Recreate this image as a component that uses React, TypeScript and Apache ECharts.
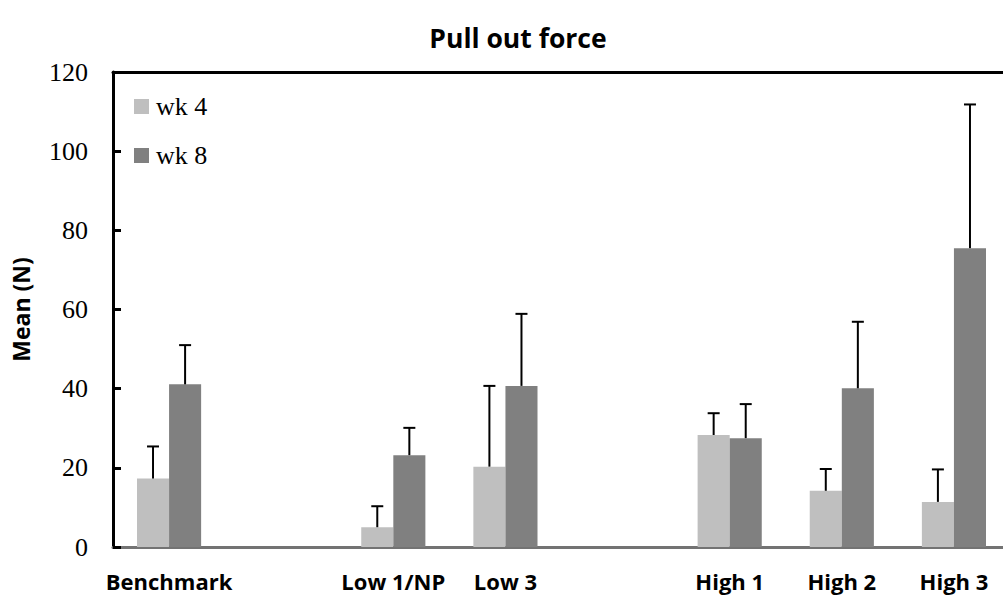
import React, { useEffect, useRef } from "react";
import * as echarts from "echarts";

const categories = ["Benchmark", "", "Low 1/NP", "Low 3", "", "High 1", "High 2", "High 3"];
const wk4Mean: (number | null)[] = [17.3, null, 5.0, 20.3, null, 28.3, 14.2, 11.4];
const wk4Err: (number | null)[] = [8.1, null, 5.3, 20.4, null, 5.5, 5.5, 8.2];
const wk8Mean: (number | null)[] = [41.1, null, 23.2, 40.7, null, 27.5, 40.1, 75.5];
const wk8Err: (number | null)[] = [9.9, null, 6.9, 18.2, null, 8.6, 16.8, 36.3];
const seriesNames = ["wk 4", "wk 8"];
const yTicks = { min: 0, max: 120, interval: 20 };

const BAR_RATIO = 0.286;

function errorData(means: (number | null)[], errs: (number | null)[]) {
  const out: any[] = [];
  means.forEach((m, i) => {
    const e = errs[i];
    if (m != null && e != null) out.push([i, m, m + e]);
  });
  return out;
}

function makeErrorSeries(idx: number, means: (number | null)[], errs: (number | null)[]) {
  return {
    type: "custom",
    name: "err" + idx,
    z: 5,
    silent: true,
    data: errorData(means, errs),
    renderItem: (params: any, api: any) => {
      const cat = api.value(0);
      const base = api.coord([cat, api.value(1)]);
      const top = api.coord([cat, api.value(2)]);
      const band = api.size([1, 0])[0];
      const bw = band * BAR_RATIO;
      const x = base[0] + (idx === 0 ? -bw / 2 : bw / 2);
      const cap = 6;
      return {
        type: "group",
        children: [
          {
            type: "line",
            shape: { x1: x, y1: base[1], x2: x, y2: top[1] },
            style: { stroke: "#000", lineWidth: 2 },
          },
          {
            type: "line",
            shape: { x1: x - cap, y1: top[1], x2: x + cap, y2: top[1] },
            style: { stroke: "#000", lineWidth: 2 },
          },
        ],
      };
    },
  };
}

export default function App() {
  const ref = useRef<HTMLDivElement>(null);
  useEffect(() => {
    if (!ref.current) return;
    const chart = echarts.init(ref.current, undefined, { renderer: "svg" });
    chart.setOption({
      animation: false,
      backgroundColor: "#fff",
      graphic: [
        {
          type: "text",
          x: 518,
          y: 38,
          style: {
            text: "Pull out force",
            font: "bold 26.5px 'Open Sans'",
            fill: "#000",
            textAlign: "center",
            textVerticalAlign: "middle",
          },
        },
      ],
      legend: {
        data: seriesNames,
        orient: "vertical",
        left: 134,
        top: 93,
        padding: 0,
        itemWidth: 15,
        itemHeight: 15,
        itemGap: 22,
        icon: "rect",
        textStyle: {
          fontFamily: "Liberation Serif",
          fontSize: 26,
          color: "#000",
          lineHeight: 27,
          padding: [0, 0, 0, 2],
        },
      },
      grid: { left: 113, top: 72, right: -7, bottom: 50, outerBoundsMode: "none" },
      xAxis: [
        {
          type: "category",
          data: categories,
          axisLine: { lineStyle: { color: "#737373", width: 3 } },
          axisTick: { show: false },
          axisLabel: {
            interval: 0,
            margin: 23,
            fontFamily: "Open Sans",
            fontWeight: "bold",
            fontSize: 22,
            color: "#000",
          },
        },
        {
          type: "category",
          data: categories,
          position: "top",
          axisLine: { lineStyle: { color: "#000", width: 3 } },
          axisTick: { show: false },
          axisLabel: { show: false },
        },
      ],
      yAxis: {
        type: "value",
        min: yTicks.min,
        max: yTicks.max,
        interval: yTicks.interval,
        name: "Mean (N)",
        nameLocation: "middle",
        nameGap: 81,
        nameTextStyle: { fontFamily: "Open Sans", fontWeight: "bold", fontSize: 23, color: "#000" },
        axisLine: { show: true, lineStyle: { color: "#000", width: 3 } },
        axisTick: { show: true, inside: true, length: 8, lineStyle: { color: "#000", width: 3 } },
        splitLine: { show: false },
        axisLabel: { margin: 25, fontFamily: "Liberation Serif", fontSize: 26, color: "#000" },
      },
      series: [
        {
          type: "bar",
          name: seriesNames[0],
          data: wk4Mean,
          barWidth: "28.6%",
          barGap: "0%",
          itemStyle: { color: "#BFBFBF" },
        },
        {
          type: "bar",
          name: seriesNames[1],
          data: wk8Mean,
          barWidth: "28.6%",
          barGap: "0%",
          itemStyle: { color: "#808080" },
        },
        makeErrorSeries(0, wk4Mean, wk4Err),
        makeErrorSeries(1, wk8Mean, wk8Err),
      ],
    });
    return () => chart.dispose();
  }, []);
  return (
    <div
      ref={ref}
      style={{ position: "fixed", left: 0, top: 0, width: 1003, height: 597 }}
    />
  );
}
